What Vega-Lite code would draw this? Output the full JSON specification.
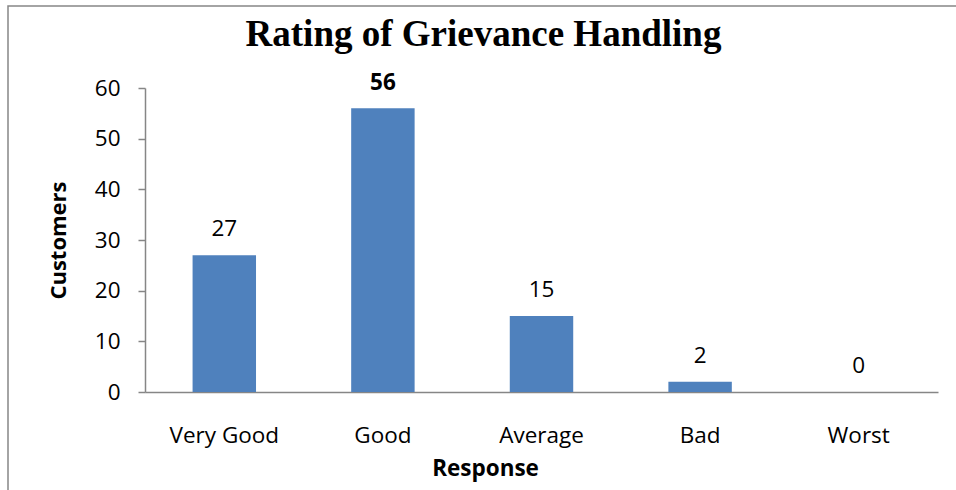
{
  "$schema": "https://vega.github.io/schema/vega-lite/v6.json",
  "autosize": {"type": "none"},
  "padding": {"left": 8, "top": 6, "right": 0, "bottom": 0},
  "width": 950,
  "height": 500,
  "background": "white",
  "config": {
    "view": {"stroke": "#868686", "strokeWidth": 1.5},
    "axis": {"grid": false}
  },
  "data": {
    "values": [
      {"Response": "Very Good", "Customers": 27},
      {"Response": "Good", "Customers": 56},
      {"Response": "Average", "Customers": 15},
      {"Response": "Bad", "Customers": 2},
      {"Response": "Worst", "Customers": 0}
    ]
  },
  "encoding": {
    "y": {
      "field": "Customers",
      "type": "quantitative",
      "scale": {"domain": [0, 60], "range": [386, 82], "nice": false},
      "axis": {
        "orient": "left",
        "offset": -137,
        "values": [0, 10, 20, 30, 40, 50, 60],
        "title": "Customers",
        "titleFont": "Open Sans",
        "titleFontSize": 22,
        "titleFontWeight": "bold",
        "titleColor": "black",
        "titlePadding": 24,
        "labelFont": "Open Sans",
        "labelFontSize": 22.5,
        "labelColor": "black",
        "labelPadding": 18,
        "tickSize": 7,
        "tickColor": "#868686",
        "tickWidth": 1.5,
        "domainColor": "#868686",
        "domainWidth": 1.5
      }
    }
  },
  "layer": [
    {
      "mark": {"type": "bar", "color": "#4F81BD"},
      "encoding": {
        "x": {
          "field": "Response",
          "type": "nominal",
          "sort": null,
          "scale": {"range": [137, 930], "paddingInner": 0.6, "paddingOuter": 0.3},
          "axis": {
            "orient": "bottom",
            "offset": -114,
            "title": "Response",
            "titleFont": "Open Sans",
            "titleFontSize": 22.5,
            "titleFontWeight": "bold",
            "titleColor": "black",
            "titleX": 477,
            "titleY": 83,
            "titleBaseline": "alphabetic",
            "labelFont": "Open Sans",
            "labelFontSize": 22.5,
            "labelColor": "black",
            "labelAngle": 0,
            "labelBaseline": "alphabetic",
            "labelPadding": 50,
            "ticks": false,
            "tickSize": 0,
            "domainColor": "#868686",
            "domainWidth": 1.5
          }
        }
      }
    },
    {
      "transform": [{"filter": "datum.Response !== 'Good'"}],
      "mark": {"type": "text", "baseline": "alphabetic", "dy": -19, "font": "Open Sans", "fontSize": 22.5, "fontWeight": "normal", "color": "black"},
      "encoding": {
        "x": {
          "field": "Response",
          "type": "nominal",
          "sort": null,
          "axis": {
            "orient": "top",
            "title": "Rating of Grievance Handling",
            "titleFont": "Liberation Serif",
            "titleFontSize": 37,
            "titleFontWeight": "bold",
            "titleColor": "black",
            "titleX": 475,
            "titleY": 39,
            "titleBaseline": "alphabetic",
            "labels": false,
            "ticks": false,
            "domain": false
          }
        },
        "text": {"field": "Customers", "type": "quantitative"}
      }
    },
    {
      "transform": [{"filter": "datum.Response === 'Good'"}],
      "mark": {"type": "text", "baseline": "alphabetic", "dy": -18, "font": "Open Sans", "fontSize": 22.5, "fontWeight": "bold", "color": "black"},
      "encoding": {
        "x": {"field": "Response", "type": "nominal", "sort": null, "axis": null},
        "text": {"field": "Customers", "type": "quantitative"}
      }
    }
  ],
  "resolve": {"axis": {"x": "independent"}}
}
